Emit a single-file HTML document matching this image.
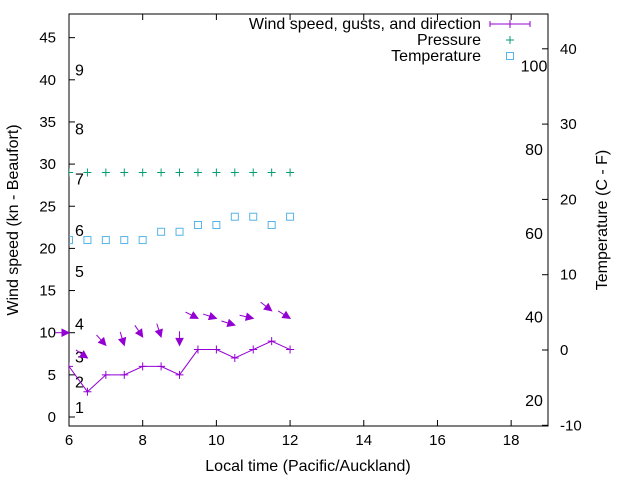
<!DOCTYPE html>
<html><head><meta charset="utf-8"><style>body{margin:0;background:#fff}svg{font-family:"Liberation Sans",sans-serif}</style></head>
<body>
<svg id="c" width="640" height="480" xmlns="http://www.w3.org/2000/svg"></svg>
<script>
const times=[6,6.5,7,7.5,8,8.5,9,9.5,10,10.5,11,11.5,12];
const windSpeed=[6,3,5,5,6,6,5,8,8,7,8,9,8];
const gusts=[10,7,8.5,8.5,9.5,9.5,8.5,11.7,11.7,10.9,11.7,12.6,11.7];
const windDir=[270,305,318,343,326,342,0,297,288,287,283,308,302];
const pressure=[29,29,29,29,29,29,29,29,29,29,29,29,29];
const tempC=[14.6,14.6,14.6,14.6,14.6,15.7,15.7,16.6,16.6,17.7,17.7,16.6,17.7];
const xTicks=[6,8,10,12,14,16,18];
const yTicks=[0,5,10,15,20,25,30,35,40,45];
const y2Ticks=[-10,0,10,20,30,40];
const beaufort=[[1,1.2],[2,4.2],[3,7.2],[4,11.1],[5,17.3],[6,22.2],[7,28.3],[8,34.2],[9,41.2]];
const fahr=[20,40,60,80,100];
const L=69,R=548,T=14,B=426;
const X=v=>L+(v-6)*(R-L)/13;
const Y=v=>417-v*8.43;
const Y2=c=>350-c*7.53;
const svg=document.getElementById('c');
const NS='http://www.w3.org/2000/svg';
function mk(tag,a,parent){const e=document.createElementNS(NS,tag);for(const k in a)e.setAttribute(k,a[k]);(parent||svg).appendChild(e);return e;}
function txt(s,x,y,anchor,size,extra){const e=mk('text',Object.assign({x:x,y:y,'text-anchor':anchor||'middle','font-size':size||14,fill:'#000'},extra||{}));e.textContent=s;return e;}
let e;
e=mk('rect',{x:L,y:T,width:R-L,height:B-T,fill:'none',stroke:'#000','stroke-width':1});


xTicks.forEach(v=>{mk('line',{x1:X(v),x2:X(v),y1:B,y2:B-6,stroke:'#000'});mk('line',{x1:X(v),x2:X(v),y1:T,y2:T+6,stroke:'#000'});
 e=txt(String(v),X(v),B+19,'middle',15);});
yTicks.forEach(v=>{mk('line',{x1:L,x2:L+6,y1:Y(v),y2:Y(v),stroke:'#000'});
 e=txt(String(v),56,Y(v)+5,'end',15);});
y2Ticks.forEach(v=>{mk('line',{x1:R,x2:R-6,y1:Y2(v),y2:Y2(v),stroke:'#000'});
 e=txt(String(v),560,Y2(v)+5,'start',15);});
beaufort.forEach(b=>{e=txt(String(b[0]),75,Y(b[1])+6,'start',16);});
fahr.forEach(f=>{e=txt(String(f),534,Y2((f-32)*5/9)+6,'middle',16);});
e=txt('Local time (Pacific/Auckland)',308,471,'middle',16);
e=txt('Wind speed (kn - Beaufort)',18,220,'middle',16,{transform:'rotate(-90 18 220)'});
e=txt('Temperature (C - F)',607,220,'middle',16,{transform:'rotate(-90 607 220)'});
const purple='#9400d3',green='#009e73',blue='#56b4e9';
const cp=mk('clipPath',{id:'clip'});mk('rect',{x:L,y:T,width:R-L,height:B-T},cp);
const g=mk('g',{'clip-path':'url(#clip)'});
const ga=mk('g',{});
function plus(x,y,col,p){mk('path',{d:`M${x-4} ${y}h8M${x} ${y-4}v8`,stroke:col,'stroke-width':1},p);}
e=mk('polyline',{points:times.map((t,i)=>X(t)+','+Y(windSpeed[i])).join(' '),fill:'none',stroke:purple,'stroke-width':1},g);

times.forEach((t,i)=>plus(X(t),Y(windSpeed[i]),purple,g));
times.forEach((t,i)=>{const hx=X(t),hy=Y(gusts[i]);const a=windDir[i]*Math.PI/180;const ux=Math.sin(a),uy=-Math.cos(a);
 const tx=hx+14*ux,ty=hy+14*uy;const bx=hx+7*ux,by=hy+7*uy;const px=-uy*3.5,py=ux*3.5;
 const ar=mk('g',{},ga);
 mk('line',{x1:tx,y1:ty,x2:hx,y2:hy,stroke:purple},ar);
 mk('polygon',{points:`${hx},${hy} ${bx+px},${by+py} ${bx-px},${by-py}`,fill:purple,stroke:purple},ar);});
times.forEach((t,i)=>{const p=mk('g',{},g);plus(X(t),Y(pressure[i]),green,p);});
times.forEach((t,i)=>{e=mk('rect',{x:X(t)-3.5,y:Y2(tempC[i])-3.5,width:7,height:7,fill:'none',stroke:blue},g);});
// legend
e=txt('Wind speed, gusts, and direction',481,29,'end',16);
mk('line',{x1:490,x2:530,y1:24,y2:24,stroke:purple});mk('path',{d:'M490 21v6M530 21v6M510 20v8',stroke:purple});
e=txt('Pressure',481,45,'end',16);
plus(510,40,green);
e=txt('Temperature',481,61,'end',16);
mk('rect',{x:506.5,y:52.5,width:7,height:7,fill:'none',stroke:blue});
</script>
</body></html>
